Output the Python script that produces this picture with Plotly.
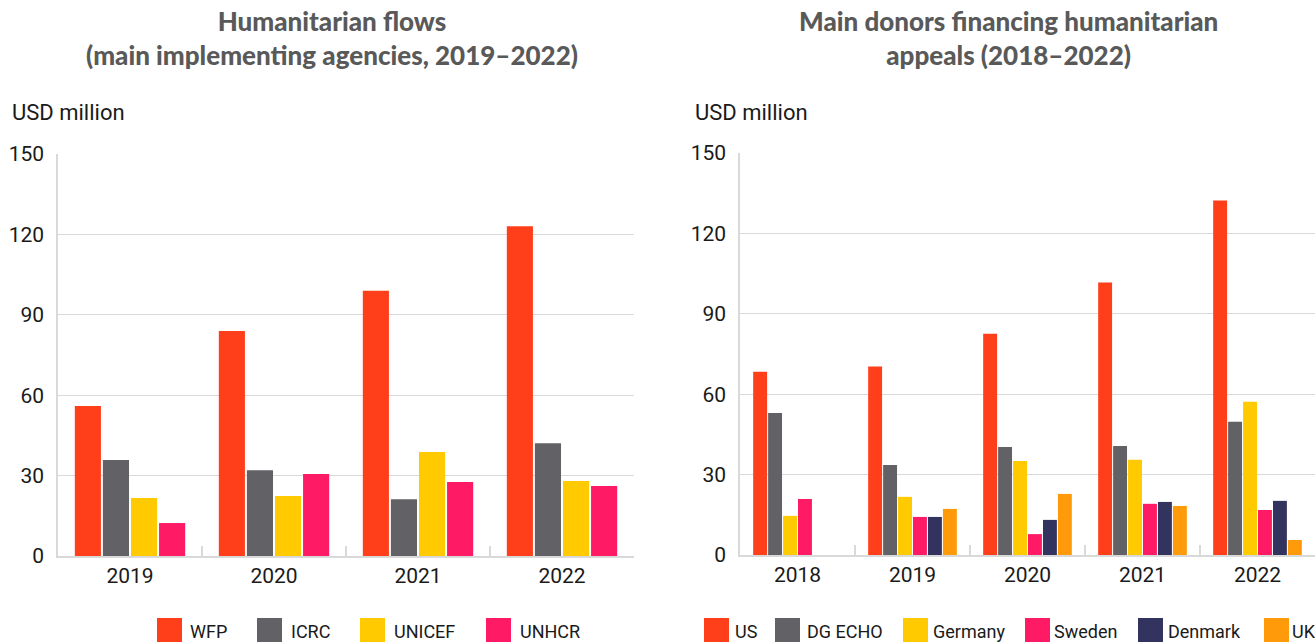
import plotly.graph_objects as go

# ---- data ----
left_years = ["2019", "2020", "2021", "2022"]
wfp = [56, 84, 99, 123]
icrc = [35.8, 32, 21.2, 42.1]
unicef = [21.6, 22.4, 38.8, 28]
unhcr = [12.3, 30.6, 27.6, 26.1]

right_years = ["2018", "2019", "2020", "2021", "2022"]
us = [68.4, 70.3, 82.6, 101.7, 132.3]
dg_echo = [53, 33.6, 40.3, 40.7, 49.7]
germany = [14.6, 21.7, 35.1, 35.5, 57.2]
sweden = [20.9, 14.2, 7.8, 19.1, 16.8]
denmark = [None, 14.2, 13.1, 19.8, 20.2]
uk = [None, 17.2, 22.8, 18.3, 5.6]

y_ticks = [0, 30, 60, 90, 120, 150]

C_RED = "#FF3E1A"
C_GREY = "#616166"
C_YEL = "#FFCB00"
C_PINK = "#FF1A66"
C_NAVY = "#33335F"
C_ORG = "#FF9A0A"

left_series = [("WFP", wfp, C_RED), ("ICRC", icrc, C_GREY),
               ("UNICEF", unicef, C_YEL), ("UNHCR", unhcr, C_PINK)]
right_series = [("US", us, C_RED), ("DG ECHO", dg_echo, C_GREY),
                ("Germany", germany, C_YEL), ("Sweden", sweden, C_PINK),
                ("Denmark", denmark, C_NAVY), ("UK", uk, C_ORG)]

W, H = 1315, 642
FONT = "Roboto"

fig = go.Figure()
for name, vals, col in left_series:
    fig.add_trace(go.Bar(x=left_years, y=vals, name=name, marker_color=col,
                         marker_line_width=0, xaxis="x", yaxis="y",
                         offsetgroup=name, showlegend=False))
for name, vals, col in right_series:
    fig.add_trace(go.Bar(x=right_years, y=vals, name=name, marker_color=col,
                         marker_line_width=0, xaxis="x2", yaxis="y2",
                         offsetgroup=name, showlegend=False))

def px_x(v):
    return v / W

def px_y(v):
    return 1 - v / H

axis_common = dict(showline=True, linecolor="#D9D9D9", linewidth=1.5,
                   automargin=False)
xcommon = dict(type="category", tickson="boundaries", ticks="inside",
               ticklen=10, tickcolor="#D9D9D9", tickwidth=1.5,
               tickfont=dict(family=FONT, size=21, color="#1a1a1a"),
               showgrid=False, **axis_common)
ycommon = dict(range=[0, 150], tickvals=y_ticks, showgrid=True,
               gridcolor="#D9D9D9", gridwidth=1, zeroline=False,
               ticks="", ticklabelstandoff=8,
               tickfont=dict(family=FONT, size=21, color="#1a1a1a"),
               **axis_common)

fig.update_layout(
    width=W, height=H, autosize=False,
    margin=dict(l=0, r=0, t=0, b=0, pad=0, autoexpand=False),
    paper_bgcolor="white", plot_bgcolor="white",
    barmode="group", bargap=0.22, bargroupgap=0.07,
    xaxis=dict(domain=[px_x(58), px_x(634)], anchor="y", **xcommon),
    yaxis=dict(domain=[px_y(556), px_y(154)], anchor="x", **ycommon),
    xaxis2=dict(domain=[px_x(740), 1.0], anchor="y2", **xcommon),
    yaxis2=dict(domain=[px_y(555), px_y(153)], anchor="x2", **ycommon),
)

annotations = []
title_font = dict(family="Lato", size=26, color="#595959", weight=900)
annotations.append(dict(text="Humanitarian flows<br>(main implementing agencies, 2019–2022)",
                        x=px_x(332), y=px_y(38), xref="paper", yref="paper",
                        xanchor="center", yanchor="middle", showarrow=False,
                        font=title_font, align="center"))
annotations.append(dict(text="Main donors financing humanitarian<br>appeals (2018–2022)",
                        x=px_x(1008), y=px_y(38), xref="paper", yref="paper",
                        xanchor="center", yanchor="middle", showarrow=False,
                        font=title_font, align="center"))
for xx in (10, 693):
    annotations.append(dict(text="USD million", x=px_x(xx), y=px_y(112),
                            xref="paper", yref="paper", xanchor="left",
                            yanchor="middle", showarrow=False,
                            font=dict(family=FONT, size=22, color="#1a1a1a")))

# custom legends (large squares): square left edge, text left edge (pixels)
left_leg_x = [157, 257, 360, 486]
left_leg_tx = [188, 289, 392, 518]
right_leg_x = [704, 775, 903, 1025, 1138, 1264]
right_leg_tx = [733, 805, 931, 1052, 1166, 1290]
shapes = []
items = list(zip(left_series, left_leg_x, left_leg_tx)) + list(zip(right_series, right_leg_x, right_leg_tx))
for (name, _, col), lx, tx in items:
    shapes.append(dict(type="rect", xref="paper", yref="paper",
                       x0=px_x(lx), x1=px_x(lx + 25), y0=px_y(643), y1=px_y(618),
                       fillcolor=col, line_width=0))
    annotations.append(dict(text=name, x=px_x(tx), y=px_y(631),
                            xref="paper", yref="paper", xanchor="left",
                            yanchor="middle", showarrow=False,
                            font=dict(family=FONT, size=18, color="#1a1a1a")))

fig.update_layout(annotations=annotations, shapes=shapes)
fig.write_html("out.html",
               post_script="document.body.style.margin='0';document.body.style.overflow='hidden';",
               config={"displayModeBar": False})
